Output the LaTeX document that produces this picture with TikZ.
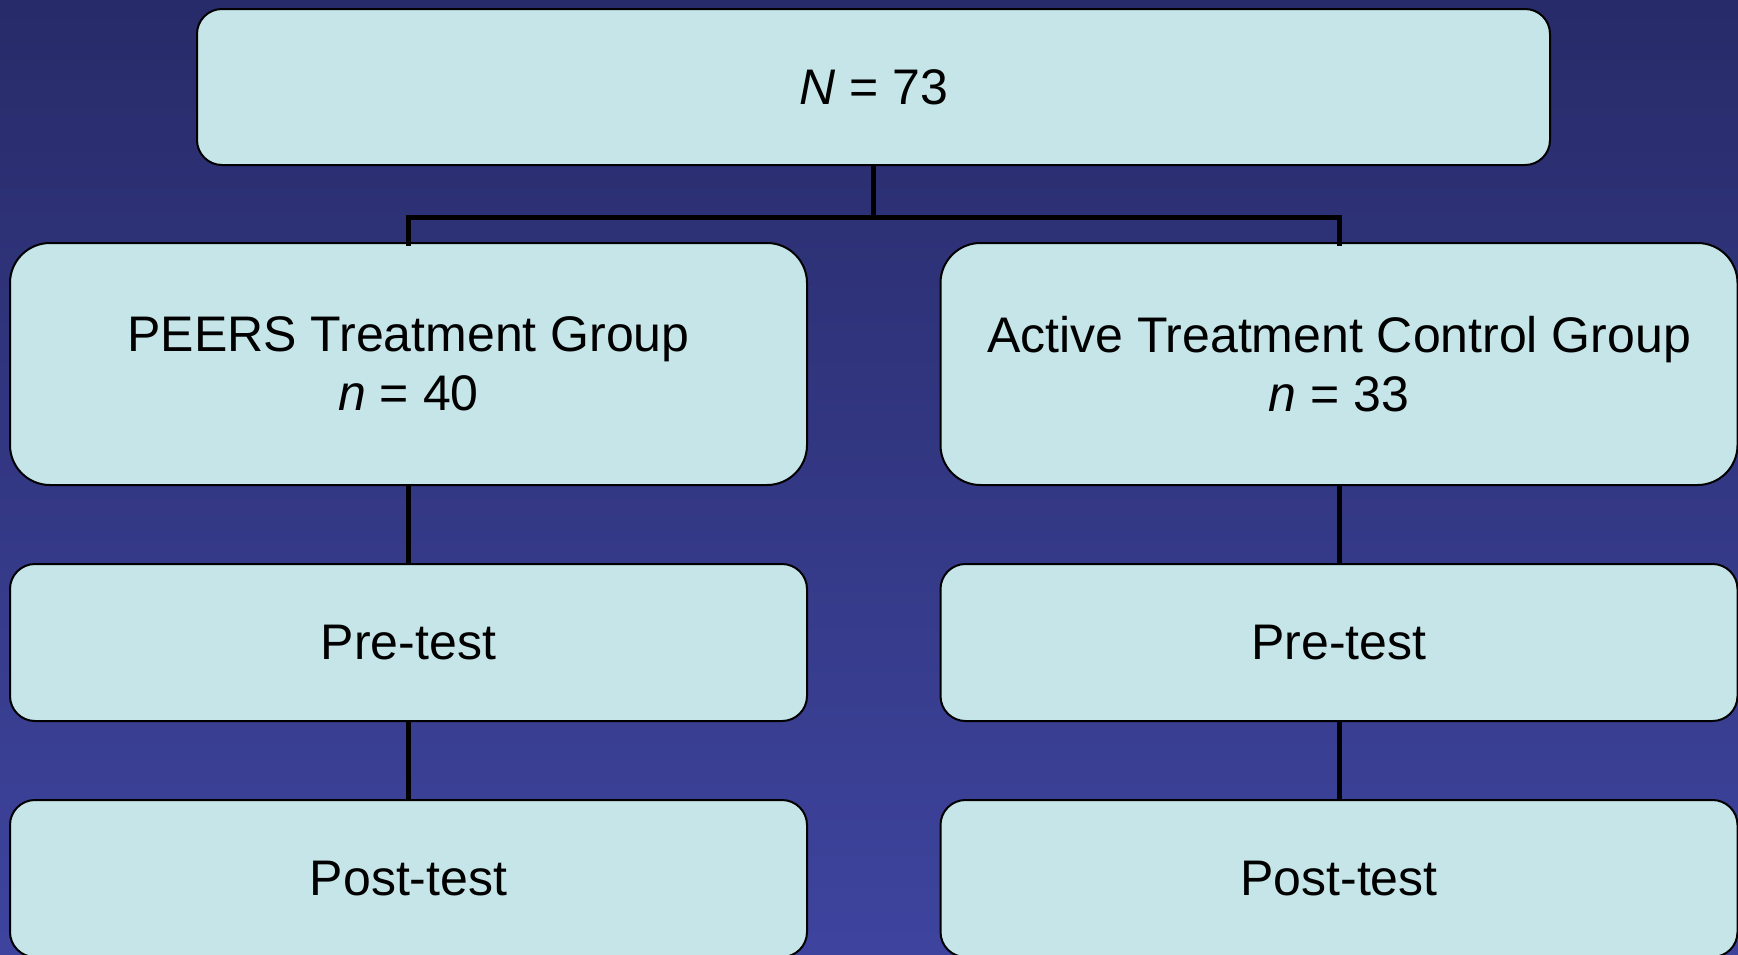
\documentclass[tikz,border=0pt]{standalone}
\usepackage{fontspec}
\setmainfont{Liberation Sans}
\usetikzlibrary{positioning}

\definecolor{bgtop}{HTML}{282B69}
\definecolor{bgbottom}{HTML}{3E449E}
\definecolor{boxfill}{HTML}{C5E5E8}

\begin{document}
\begin{tikzpicture}
[x=0.5pt,y=-0.5pt,
node distance=39.5pt,
box/.style={draw=black,fill=boxfill,line width=1pt,rounded corners=12.5pt,inner sep=0pt,outer sep=0pt,
  minimum width=398.5pt,minimum height=78.5pt,align=center,font=\fontsize{25}{29.5}\selectfont},
groupbox/.style={box,rounded corners=20pt,minimum height=121pt},
link/.style={draw=black,line width=2.5pt}]
\useasboundingbox (0,0) rectangle (1738,954);
\fill[top color=bgtop,bottom color=bgbottom] (0,0) rectangle (1738,954);

\node[box,minimum width=676.5pt,minimum height=78pt] (total) at (873.5,87) {\textit{N} = 73};
\node[groupbox] (peers) at (408.5,364) {PEERS Treatment Group\\\textit{n} = 40};
\node[groupbox] (control) at (1339,364) {Active Treatment Control Group\\\textit{n} = 33};
\node[box,below=of peers] (preL) {Pre-test};
\node[box,below=of preL] (postL) {Post-test};
\node[box,below=of control] (preR) {Pre-test};
\node[box,below=of preR] (postR) {Post-test};

% connectors
\draw[link] (total.south) -- (total.south |- 0,217) coordinate (mid);
\draw[link,line cap=rect] (peers.north) -- (peers.north |- mid) -- (control.north |- mid) -- (control.north);
\draw[link] (peers) -- (preL);
\draw[link] (preL) -- (postL);
\draw[link] (control) -- (preR);
\draw[link] (preR) -- (postR);
\end{tikzpicture}
\end{document}
